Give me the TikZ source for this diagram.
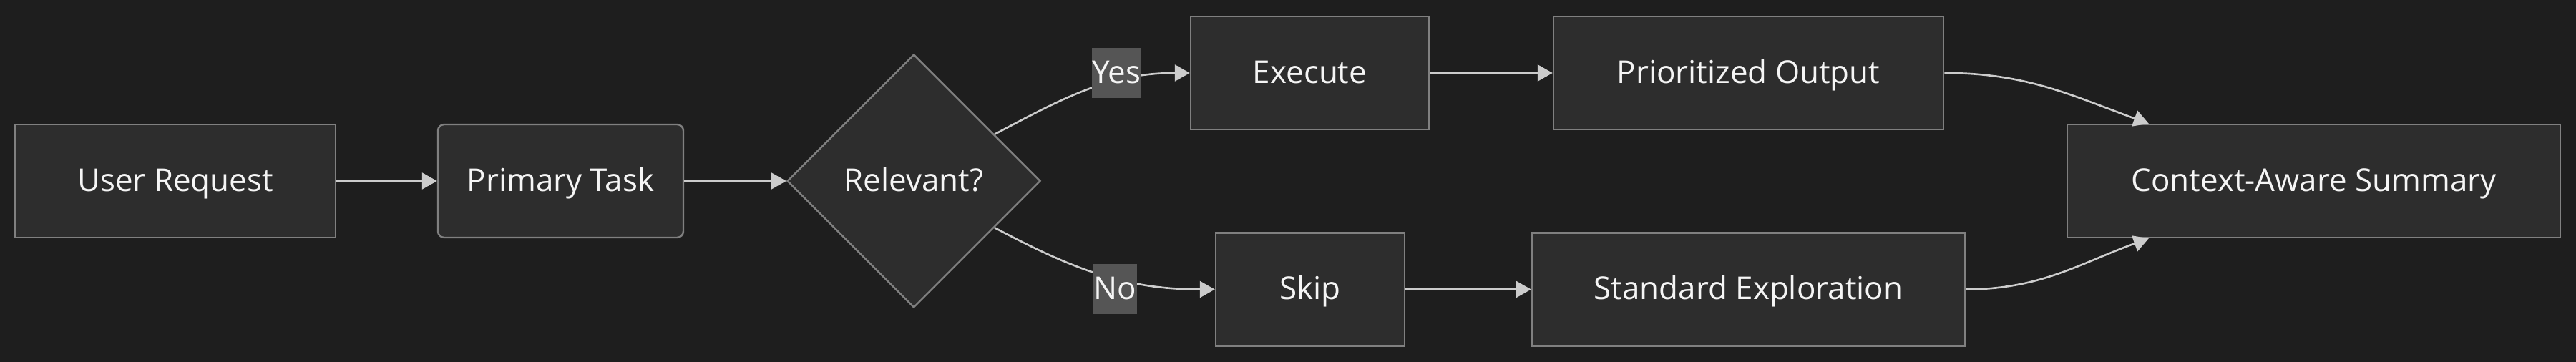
\documentclass[tikz,border=0pt]{standalone}
\usepackage{fontspec}
\setmainfont{Open Sans}
\usetikzlibrary{shapes.geometric,arrows.meta}
\definecolor{canvas}{RGB}{30,30,30}
\definecolor{boxfill}{RGB}{45,45,45}
\definecolor{boxline}{RGB}{128,128,128}
\definecolor{flowline}{RGB}{204,204,204}
\definecolor{tagfill}{RGB}{85,85,85}
\definecolor{boxtext}{RGB}{245,245,245}

\begin{document}
\begin{tikzpicture}[
    box/.style={draw=boxline, fill=boxfill, line width=0.7pt, text=boxtext,
      font=\fontsize{12.5}{15}\selectfont, text height=0.8em, text depth=0pt,
      minimum height=1.58cm, inner sep=0pt},
    decision/.style={box, diamond, shape aspect=1, minimum width=3.54cm, minimum height=3.54cm},
    tag/.style={fill=tagfill, text=boxtext, font=\fontsize{12.5}{15}\selectfont,
      text height=0.8em, text depth=0pt,
      minimum width=0.66cm, minimum height=0.70cm, inner sep=0pt},
    flow/.style={draw=flowline, line width=0.75pt, -{Triangle[length=0.21cm, width=0.23cm]}}
  ]
  % dark page
  \fill[canvas] (0,0) rectangle (36,5.06);
  \useasboundingbox (0,0) rectangle (36,5.06);
  % main row
  \node[box, minimum width=4.48cm] (user) at (2.45,2.53) {User Request};
  \node[box, rounded corners=2.5pt, minimum width=3.43cm] (task) at (7.835,2.53) {Primary Task};
  \node[decision] (rel) at (12.77,2.53) {Relevant?};
  % upper branch
  \node[box, minimum width=3.33cm] (exec) at (18.305,4.04) {Execute};
  \node[box, minimum width=5.45cm] (prio) at (24.435,4.04) {Prioritized Output};
  % lower branch
  \node[box, minimum width=2.64cm] (skip) at (18.31,1.015) {Skip};
  \node[box, minimum width=6.05cm] (explore) at (24.435,1.015) {Standard Exploration};
  % merge point
  \node[box, minimum width=6.89cm] (summary) at (32.335,2.53) {Context-Aware Summary};
  % connectors
  \draw[flow] (user) -- (task);
  \draw[flow] (task) -- (rel);
  \draw[flow] (rel.30) to[out=28, in=180] (exec.west);
  \draw[flow] (rel.-30) to[out=-28, in=180] (skip.west);
  \draw[flow] (exec) -- (prio);
  \draw[flow] (skip) -- (explore);
  \draw[flow] (prio.east) to[out=0, in=160] ([xshift=1.15cm]summary.north west);
  \draw[flow] (explore.east) to[out=0, in=200] ([xshift=1.15cm]summary.south west);
  % branch labels on top of the lines
  \node[tag] (yes) at (15.6,4.04) {Yes};
  \node[tag, minimum width=0.62cm] (no) at (15.58,1.02) {No};
\end{tikzpicture}
\end{document}
